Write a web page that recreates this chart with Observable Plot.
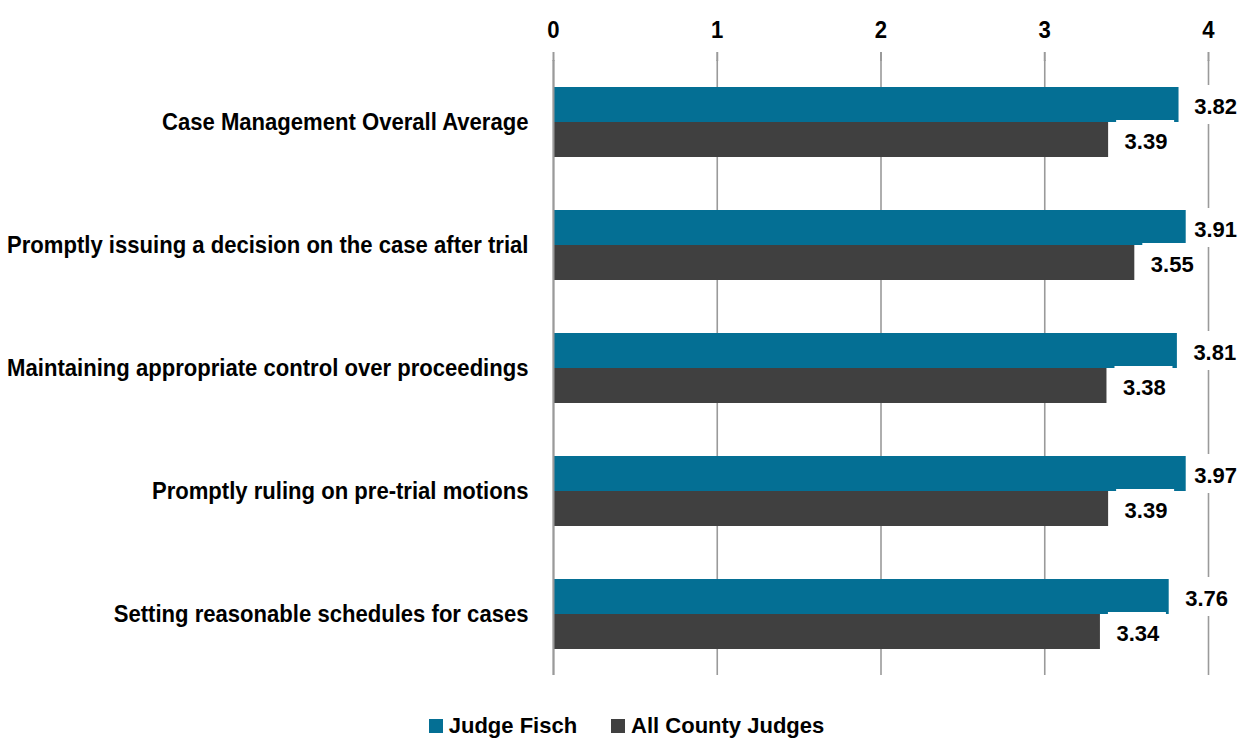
<!DOCTYPE html>
<html>
<head>
<meta charset="utf-8">
<script src="https://cdn.jsdelivr.net/npm/d3@7"></script>
<script src="https://cdn.jsdelivr.net/npm/@observablehq/plot@0.6"></script>
<style>
  html, body { margin: 0; padding: 0; background: #fff; }
  body { width: 1239px; height: 740px; overflow: hidden; font-family: "Liberation Sans", Arial, sans-serif; font-weight: bold; }
  #chart svg { overflow: visible; }
  #legend { display: flex; justify-content: center; gap: 34px; padding-top: 24px; padding-left: 14px; font-size: 22px; line-height: 24px; color: #000; }
  #legend .item { display: flex; align-items: center; gap: 6px; }
  #legend .sw { width: 14px; height: 14px; display: inline-block; }
</style>
</head>
<body>
<div id="chart"></div>
<div id="legend"></div>
<script>
const categories = [
  "Case Management Overall Average",
  "Promptly issuing a decision on the case after trial",
  "Maintaining appropriate control over proceedings",
  "Promptly ruling on pre-trial motions",
  "Setting reasonable schedules for cases"
];
const seriesNames = ["Judge Fisch", "All County Judges"];
const judgeFisch = [3.82, 3.91, 3.81, 3.97, 3.76];
const allCountyJudges = [3.39, 3.55, 3.38, 3.39, 3.34];
const xTicks = [0, 1, 2, 3, 4];
const colors = ["#046f94", "#404040"];

const data = categories.flatMap((c, i) => [
  {category: c, series: seriesNames[0], value: judgeFisch[i]},
  {category: c, series: seriesNames[1], value: allCountyJudges[i]}
]);

const W = 1239, H = 690, mt = 59, mb = 15, ml = 553, mr = 31;
const facetH = (H - mt - mb) / categories.length;
const font = `"Liberation Sans", Arial, sans-serif`;
const gridColor = "#9a9a9a";
const labelCap = 3.815; // labels near the axis end are pulled inward, as in the source chart
const labelX = d => Math.min(d.value, labelCap);

const chart = Plot.plot({
  width: W,
  height: H,
  marginTop: mt,
  marginBottom: mb,
  marginLeft: ml,
  marginRight: mr,
  style: {fontFamily: font, fontWeight: "bold", color: "#000", background: "#fff"},
  x: {domain: [0, 4], axis: null},
  y: {domain: seriesNames, axis: null, paddingInner: 0, paddingOuter: 0.757},
  fy: {domain: categories, paddingInner: 0, paddingOuter: 0, axis: null},
  color: {domain: seriesNames, range: colors},
  marks: [
    Plot.gridX(xTicks, {stroke: gridColor, strokeOpacity: 1, strokeWidth: 1.6}),
    Plot.barX(data, {fy: "category", y: "series", x: "value", fill: "series"}),
    Plot.ruleX([0], {stroke: gridColor, strokeWidth: 2}),
    Plot.ruleY(categories, {fy: d => d, x1: 0, x2: 0, insetLeft: -10, dy: -facetH / 2, stroke: gridColor, strokeWidth: 2}),
    Plot.ruleY([categories[categories.length - 1]], {fy: d => d, x1: 0, x2: 0, insetLeft: -10, dy: facetH / 2, stroke: gridColor, strokeWidth: 2}),
    Plot.ruleY([categories[0]], {fy: d => d, x1: 0, x2: 4, insetLeft: -10, dy: -facetH / 2, stroke: gridColor, strokeWidth: 2}),
    Plot.axisX(xTicks, {anchor: "top", tickSize: 9, tickPadding: 14, stroke: gridColor, strokeWidth: 2, fontSize: 24, fontWeight: "bold", tickFormat: d => String(d), label: null, className: "condense"}),
    Plot.axisFy({anchor: "left", tickSize: 0, tickPadding: 25, fontSize: 24, fontWeight: "bold", label: null, className: "condense"}),
    // white label boxes
    Plot.barX(data, {fy: "category", y: "series", x1: labelX, x2: labelX, insetLeft: 8, insetRight: -66, insetTop: -2, insetBottom: -2, fill: "#fff"}),
    Plot.text(data, {fy: "category", y: "series", x: labelX, text: d => d.value.toFixed(2), dx: 16, dy: 1.5, textAnchor: "start", fontSize: 22, fontWeight: "bold", fill: "#000"})
  ]
});
document.getElementById("chart").appendChild(chart);

// condense axis glyphs slightly to match the narrow bold face of the source
d3.select(chart).selectAll("g.condense text").each(function() {
  const w = this.getComputedTextLength();
  if (w > 0) {
    this.setAttribute("textLength", (w * 0.92).toFixed(1));
    this.setAttribute("lengthAdjust", "spacingAndGlyphs");
  }
});

const legend = document.getElementById("legend");
seriesNames.forEach((s, i) => {
  const item = document.createElement("span");
  item.className = "item";
  const sw = document.createElement("span");
  sw.className = "sw";
  sw.style.background = colors[i];
  const t = document.createElement("span");
  t.textContent = s;
  item.appendChild(sw);
  item.appendChild(t);
  legend.appendChild(item);
});
</script>
</body>
</html>
